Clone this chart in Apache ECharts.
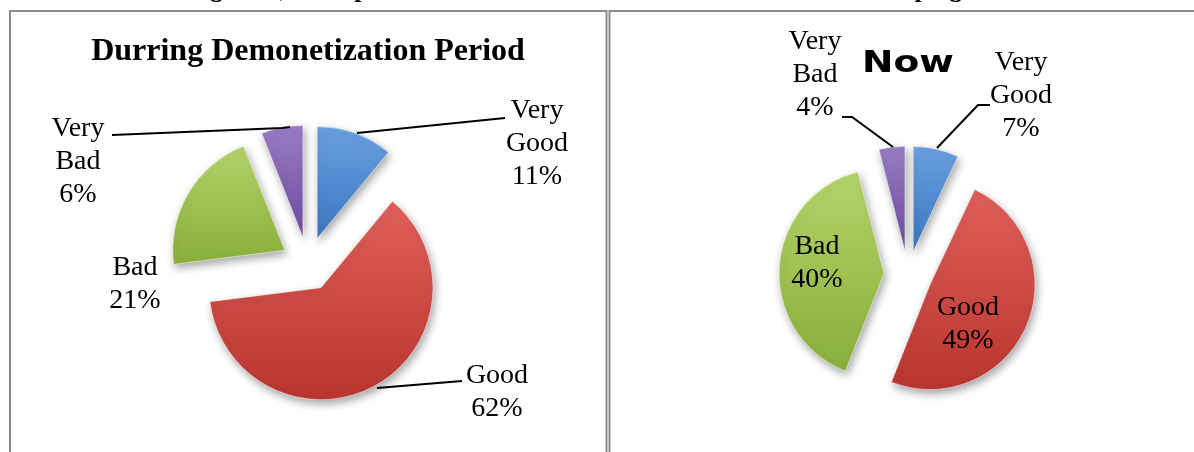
<!DOCTYPE html>
<html>
<head>
<meta charset="utf-8">
<script src="https://cdn.jsdelivr.net/npm/echarts@6/dist/echarts.min.js"></script>
<style>
html,body{margin:0;padding:0;background:#fff;}
#chart{width:1194px;height:452px;}
</style>
</head>
<body>
<div id="chart"></div>
<script>
// ---- data ----
const categories = ['Very Good', 'Good', 'Bad', 'Very Bad'];
const duringValues = [11, 62, 21, 6];
const nowValues = [7, 49, 40, 4];
const titleDuring = 'Durring Demonetization Period';
const titleNow = 'Now';
const captionText = 'Figure 2, Perception of Consumers after the Demonetization Campaign';

// ---- styles ----
const sliceColors = [
  ['#6AA0E0', '#3A76C0'],
  ['#E0605A', '#B8352F'],
  ['#B4D46A', '#88AE3A'],
  ['#9A7CC4', '#6E4C9E']
];
const serif = 'Liberation Serif, Times New Roman, serif';

// label placement (label block centre and leader line) per chart & category
const labelPlacement = [
  [
    {x: 537, y: 144, line: [[357, 133], [505, 118]]},
    {x: 497, y: 392, line: [[377, 388], [462, 381]]},
    {x: 135, y: 284, line: null},
    {x: 78, y: 162, line: [[112, 135], [282, 128], [290, 127]]}
  ],
  [
    {x: 1021, y: 96, line: [[937, 148], [978, 105], [990, 105]]},
    {x: 968, y: 324, line: null},
    {x: 817, y: 263, line: null},
    {x: 815, y: 75, line: [[842, 117], [852, 117], [893, 147]]}
  ]
];

function makeData(values) {
  return categories.map((name, i) => ({
    name: name,
    value: values[i],
    selected: true,
    itemStyle: {
      color: {
        type: 'linear', x: 0, y: 0, x2: 0, y2: 1,
        colorStops: [{offset: 0, color: sliceColors[i][0]}, {offset: 1, color: sliceColors[i][1]}]
      }
    }
  }));
}

function makeSeries(values, center, radius, offset) {
  return {
    type: 'pie',
    center: center,
    radius: radius,
    startAngle: 90,
    clockwise: true,
    selectedMode: 'multiple',
    selectedOffset: offset,
    animation: false,
    emphasis: {disabled: true},
    select: {itemStyle: {borderWidth: 1, borderColor: 'rgba(255,255,255,0.5)'}},
    itemStyle: {
      borderWidth: 1,
      borderColor: 'rgba(255,255,255,0.5)',
      shadowBlur: 8,
      shadowColor: 'rgba(0,0,0,0.35)',
      shadowOffsetX: 2,
      shadowOffsetY: 4
    },
    data: makeData(values),
    label: {show: false},
    labelLine: {show: false}
  };
}

function labelGraphics(values, chartIdx) {
  const out = [];
  categories.forEach((name, i) => {
    const pl = labelPlacement[chartIdx][i];
    if (pl.line) {
      out.push({
        type: 'polyline',
        shape: {points: pl.line},
        style: {stroke: '#000', lineWidth: 2, fill: null},
        z: 10
      });
    }
    out.push({
      type: 'text',
      x: pl.x, y: pl.y,
      z: 11,
      style: {
        text: name.replace(' ', '\n') + '\n' + values[i] + '%',
        font: '28px ' + serif,
        lineHeight: 33,
        fill: '#000',
        align: 'center',
        verticalAlign: 'middle'
      }
    });
  });
  return out;
}

const chart = echarts.init(document.getElementById('chart'), null, {renderer: 'canvas'});
chart.setOption({
  backgroundColor: '#fff',
  animation: false,
  graphic: [
    {type: 'text', x: 187, y: -10, style: {text: captionText, font: 'bold 26px ' + serif, fill: '#000', verticalAlign: 'middle'}, z: 0},
    {type: 'rect', shape: {x: 10, y: 11, width: 596.5, height: 460}, style: {fill: 'none', stroke: '#8c8c8c', lineWidth: 2}},
    {type: 'rect', shape: {x: 609.5, y: 11, width: 620, height: 460}, style: {fill: 'none', stroke: '#8c8c8c', lineWidth: 2}},
    {type: 'text', x: 308, y: 52, style: {text: titleDuring, font: 'bold 32px ' + serif, fill: '#000', align: 'center', verticalAlign: 'middle'}},
    {type: 'text', x: 908, y: 64, scaleX: 1.25, style: {text: titleNow, font: 'bold 30px DejaVu Sans', fill: '#000', align: 'center', verticalAlign: 'middle'}}
  ].concat(labelGraphics(duringValues, 0), labelGraphics(nowValues, 1)),
  series: [
    makeSeries(duringValues, [308, 264], 112, 27),
    makeSeries(nowValues, [908, 275], 105, 24)
  ]
});
</script>
</body>
</html>
